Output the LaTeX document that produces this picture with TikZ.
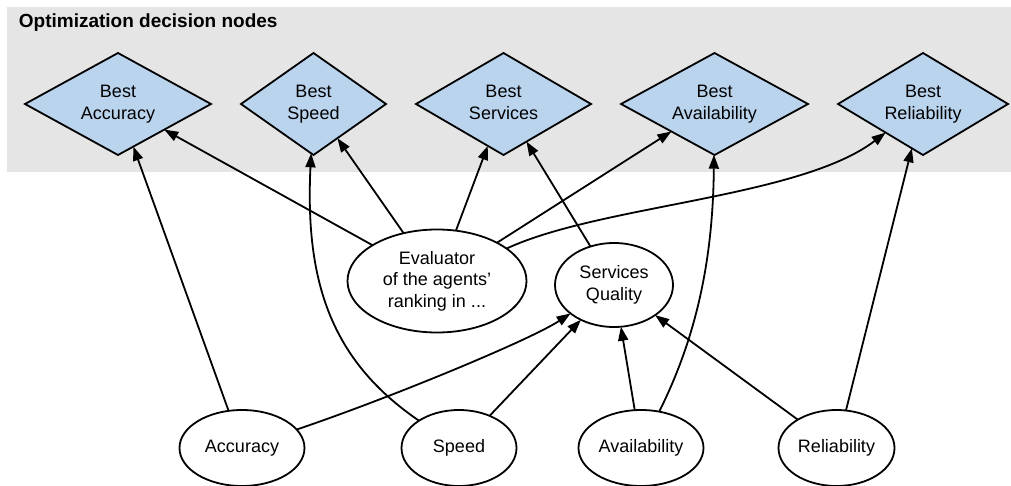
\documentclass[tikz,border=0pt]{standalone}
\usepackage{fontspec}
\setmainfont{Liberation Sans}
\usetikzlibrary{positioning,shapes.geometric,arrows.meta}
\definecolor{bandgray}{HTML}{E5E5E5}
\definecolor{bestblue}{HTML}{BAD4EE}

\begin{document}
\begin{tikzpicture}[x=1pt, y=1pt, line width=1.8pt,
  font=\fontsize{18}{21.5}\selectfont,
  best/.style={diamond, draw, fill=bestblue, aspect=2, inner sep=1pt, outer sep=0pt, minimum height=102pt, align=center, execute at end node=\vphantom{y}},
  judge/.style={ellipse, draw, fill=white, inner sep=0pt, outer sep=0pt, align=center},
  metric/.style={ellipse, draw, fill=white, inner sep=0pt, outer sep=0pt, minimum height=76pt},
  link/.style={-{Triangle[length=14pt,width=10pt]}}]
  \useasboundingbox (0,0) rectangle (1011,485);
  \fill[bandgray] (7,313) rectangle (1011,478);
  \node(title)[anchor=base west, inner sep=0pt, font=\fontsize{19}{22}\selectfont\bfseries] at (18,457) {Optimization decision nodes};
  \node(bacc)[best, minimum width=186pt] at (118,381) {Best\\Accuracy};
  \node(bspeed)[best, minimum width=145pt, right=30pt of bacc] {Best\\Speed};
  \node(bserv)[best, minimum width=175pt, right=30pt of bspeed] {Best\\Services};
  \node(bavail)[best, minimum width=187pt, right=30pt of bserv] {Best\\Availability};
  \node(brel)[best, minimum width=170pt, right=30pt of bavail] {Best\\Reliability};
  \node(eval)[judge, minimum width=179pt, minimum height=103pt] at (437,204) {Evaluator\\of the agents’\\ranking in ...};
  \node(sq)[judge, minimum width=118pt, minimum height=84pt] at (614,200) {Services\\Quality};
  \node(acc)[metric, minimum width=125pt] at (242,37) {Accuracy};
  \node(speed)[metric, minimum width=115pt, right=97pt of acc] {Speed};
  \node(avail)[metric, minimum width=125pt, right=62pt of speed] {Availability};
  \node(rel)[metric, minimum width=116pt, right=75pt of avail] {Reliability};
  \draw[link] (acc) -- (bacc);
  \draw[link] (eval) -- (bacc);
  \draw[link] (speed) .. controls (330,125) and (305,205) .. (bspeed);
  \draw[link] (eval) -- (bspeed);
  \draw[link] (eval) -- (bserv);
  \draw[link] (sq) -- (bserv);
  \draw[link] (eval) -- (bavail);
  \draw[link] (avail) .. controls (700,155) and (713,235) .. (bavail);
  \draw[link] (eval) .. controls (600,280) and (800,287) .. (brel);
  \draw[link] (rel) -- (brel);
  \draw[link] (acc) .. controls (390,87) and (530,145) .. (sq);
  \draw[link] (speed) -- (sq);
  \draw[link] (avail) -- (sq);
  \draw[link] (rel) -- (sq);
\end{tikzpicture}
\end{document}
